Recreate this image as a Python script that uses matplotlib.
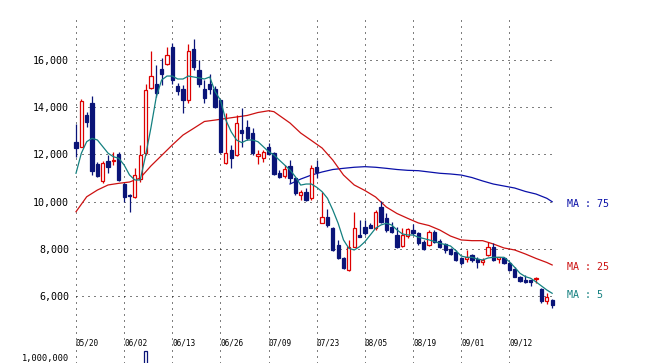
import numpy as np
import matplotlib.pyplot as plt

# date labels, one every 9 trading days
date_labels = ['05/20', '06/02', '06/13', '06/26', '07/09',
               '07/23', '08/05', '08/19', '09/01', '09/12']
label_step = 9

# daily candles (yen)
opens = [12540, 12325, 13670, 14165, 11600, 10870, 11735, 11710, 12005, 10745,
         10300, 10205, 10945, 12060, 14800, 14970, 15620, 15815, 16560, 14900,
         14760, 14305, 16450, 15575, 14760, 14985, 14760, 14300, 11620, 12185,
         11975, 13035, 13150, 12895, 11930, 11835, 12325, 12045, 11200, 11085,
         11510, 11000, 10280, 10420, 10150, 11480, 9080, 9360, 8895, 8160,
         7600, 7100, 8090, 8585, 8935, 9010, 8870, 9770, 9305, 8935,
         8585, 8130, 8540, 8795, 8655, 8300, 8160, 8725, 8345, 8200,
         7980, 7875, 7595, 7555, 7740, 7555, 7455, 7740, 8090, 7555,
         7595, 7385, 7130, 6790, 6680, 6680, 6710, 6280, 5800, 5830]
highs = [13290, 14330, 13810, 14475, 11690, 11700, 11975, 12100, 12115, 10775,
         10330, 11410, 12400, 14970, 16380, 15790, 16070, 16560, 16705, 15040,
         14940, 16665, 16875, 16000, 15150, 15405, 14900, 14350, 13750, 12400,
         13670, 13955, 13455, 13105, 12185, 12185, 12470, 12115, 11340, 11550,
         11760, 11055, 10490, 10560, 11550, 11760, 10420, 9700, 8935, 8375,
         7665, 8375, 9560, 9220, 9220, 9105, 9645, 10025, 9515, 9150,
         8935, 8870, 8870, 9030, 8720, 8375, 8795, 8795, 8400, 8260,
         8020, 7950, 7665, 7950, 7780, 7640, 7595, 8300, 8235, 7665,
         7665, 7455, 7250, 6860, 6890, 6680, 6820, 6320, 6110, 5860]
lows = [11890, 12300, 13170, 11125, 11055, 10800, 11225, 11550, 10875, 9995,
        9570, 10140, 10845, 11975, 14760, 14445, 14940, 15790, 14985, 14515,
        13740, 14190, 15575, 14845, 14190, 14560, 13955, 12050, 11590, 11410,
        11930, 12325, 12610, 11975, 11580, 11690, 11975, 11125, 10985, 10985,
        10790, 10280, 10070, 10040, 10070, 10985, 9080, 8935, 7920, 7555,
        7130, 7070, 8090, 8485, 8585, 8870, 8795, 9100, 8725, 8650,
        8020, 8090, 8445, 8585, 8160, 7950, 8120, 8260, 8040, 7810,
        7735, 7495, 7315, 7455, 7455, 7200, 7315, 7700, 7495, 7385,
        7350, 7070, 6790, 6580, 6560, 6420, 6560, 5720, 5660, 5480]
closes = [12290, 14275, 13385, 11310, 11085, 11650, 11480, 11760, 10915, 10205,
          10230, 11125, 11975, 14730, 15320, 14590, 15405, 16210, 15150, 14700,
          14305, 16380, 15715, 14985, 14400, 14760, 14020, 12115, 12045, 11835,
          13320, 12920, 12705, 12045, 12015, 12115, 12015, 11170, 11055, 11370,
          10985, 10350, 10395, 10070, 11425, 11255, 9360, 9010, 7950, 7600,
          7175, 8090, 8870, 8515, 8655, 8895, 9570, 9150, 8810, 8725,
          8060, 8585, 8825, 8655, 8235, 7980, 8725, 8300, 8090, 7950,
          7780, 7525, 7385, 7640, 7525, 7455, 7525, 8090, 7525, 7640,
          7385, 7100, 6820, 6650, 6610, 6610, 6750, 5800, 5945, 5620]

# moving averages as drawn on the chart
ma5 = [11200, 12050, 12540, 12680, 12610, 12330, 12050, 11900, 11835, 11550,
       11130, 10915, 10915, 11940, 13120, 14430, 15150, 15320, 15320, 15195,
       15195, 15320, 15280, 15240, 15195, 15280, 14660, 14300, 13460, 12960,
       12610, 12500, 12610, 12610, 12540, 12330, 12115, 11975, 11760, 11550,
       11340, 11055, 10700, 10745, 10745, 10605, 10420, 10140, 9645, 9080,
       8375, 8020, 7950, 8090, 8300, 8585, 8870, 9010, 9080, 9010,
       8800, 8630, 8585, 8585, 8490, 8435, 8375, 8310, 8235, 8180,
       8120, 7920, 7695, 7640, 7640, 7570, 7525, 7610, 7640, 7640,
       7640, 7455, 7215, 6960, 6820, 6750, 6595, 6425, 6255, 6115]
ma25_days = [0, 2, 4, 6, 8, 10, 12, 14, 16, 18, 20, 22, 24, 26, 28, 30, 32, 34,
             36, 37, 38, 40, 42, 44, 46, 48, 50, 52, 54, 56, 58, 60, 62, 64,
             66, 68, 70, 72, 74, 76, 78, 80, 82, 84, 86, 88, 89]
ma25 = [9570, 10205, 10490, 10705, 10775, 10830, 11000, 11510, 11955, 12400,
        12820, 13105, 13395, 13455, 13520, 13585, 13650, 13775, 13850, 13810,
        13650, 13330, 12905, 12590, 12270, 11760, 11125, 10705, 10470, 10195,
        9770, 9495, 9290, 9095, 8985, 8795, 8540, 8375, 8345, 8345,
        8205, 8035, 7950, 7780, 7590, 7420, 7315]
ma75_days = [40, 42, 44, 46, 48, 50, 52, 54, 56, 58, 60, 62, 64, 66, 68, 70,
             72, 74, 76, 78, 80, 82, 84, 86, 88, 89]
ma75 = [10745, 10955, 11125, 11255, 11360, 11410, 11455, 11480, 11455, 11410,
        11360, 11325, 11310, 11255, 11200, 11170, 11125, 11020, 10875, 10745,
        10660, 10575, 10430, 10320, 10140, 9995]

price_ticks = [6000, 8000, 10000, 12000, 14000, 16000]

# only the tallest volume bar reaches into view
vol_days = [13]
vol = [1920000]

NAVY = '#0a1478'
RED = '#dd0000'
C_MA5 = '#148080'
C_MA25 = '#cc1111'
C_MA75 = '#0a10a8'
FONT = 'DejaVu Sans Mono'

# pixel layout of the reference
W, H = 660, 363
X0, DX = 76, 5.35          # px of day 0, px per day
Y0, PY = 296, 0.0236       # px of 6,000, px per yen

fig = plt.figure(figsize=(W / 100, H / 100), dpi=100)
left, right, top = 72, 560, 15
ax = fig.add_axes([left / W, 0, (right - left) / W, (H - top) / H])
ax.set_xlim((left - X0) / DX, (right - X0) / DX)
ax.set_ylim(6000 - (H - Y0) / PY, 6000 + (Y0 - top) / PY)
for s in ax.spines.values():
    s.set_visible(False)
ax.set_facecolor('none')

days = np.arange(len(closes))
label_days = np.arange(len(date_labels)) * label_step
dots = (0, (1, 5))

ax.hlines(price_ticks, 0, (556 - X0) / DX, colors='black',
          linestyles=dots, lw=0.72, zorder=1)
for d in label_days:
    ax.axvline(d, color='black', ls=dots, lw=0.72, zorder=1)

ax.set_yticks(price_ticks)
ax.set_yticklabels([f'{t:,}' for t in price_ticks], family=FONT, fontsize=7.2)
ax.tick_params(axis='y', length=0, pad=2.2)
ax.set_xticks([])

for d, lab in zip(label_days, date_labels):
    ax.text(d, (H - 343) / (H - top), lab, transform=ax.get_xaxis_transform(),
            ha='left', va='center', family=FONT, fontsize=5.6)

# candles
bw = 0.6
for d, o, h, l, c in zip(days, opens, highs, lows, closes):
    up = c >= o
    col = RED if up else NAVY
    ax.vlines(d, l, h, colors=col, lw=0.9, zorder=3)
    body = max(abs(c - o), 30)
    ax.bar(d, body, bottom=min(o, c), width=bw, facecolor='white' if up else NAVY,
           edgecolor=col, lw=0.9, zorder=4)

ax.plot(ma75_days, ma75, color=C_MA75, lw=0.9, zorder=2)
ax.plot(ma25_days, ma25, color=C_MA25, lw=0.9, zorder=2)
ax.plot(days, ma5, color=C_MA5, lw=0.9, zorder=5)

for xs, ys, name, col in [(ma75_days, ma75, 'MA : 75', C_MA75),
                          (ma25_days, ma25, 'MA : 25', C_MA25),
                          (days, ma5, 'MA : 5', C_MA5)]:
    ax.annotate(name, xy=(xs[-1], ys[-1]), xytext=(15, -2),
                textcoords='offset pixels', ha='left', va='center',
                color=col, family=FONT, fontsize=7.2)

# volume panel (mostly below the visible area)
axv = fig.add_axes([left / W, (H - 420) / H, (right - left) / W, 72 / H])
axv.set_xlim(ax.get_xlim())
axv.set_ylim(0, 2000000)
axv.axis('off')
axv.bar(vol_days, vol, width=bw, facecolor='white', edgecolor=NAVY, lw=0.9)
fig.text(69 / W, 1 - 354 / H, '1,000,000', ha='right', va='top',
         family=FONT, fontsize=6.2)

fig.savefig('out.png', dpi=100)
